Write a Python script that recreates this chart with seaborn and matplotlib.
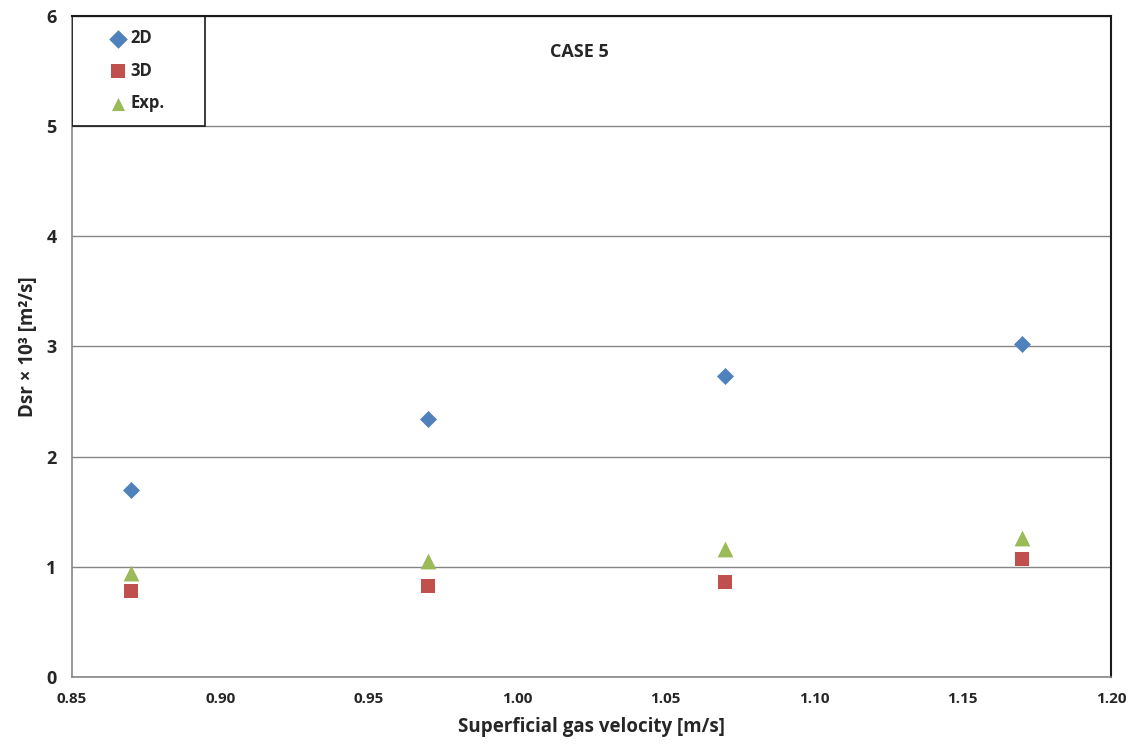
import matplotlib
matplotlib.use("Agg")
import matplotlib.pyplot as plt
from matplotlib.patches import Rectangle
import seaborn as sns
import pandas as pd

# Superficial gas velocity [m/s]
velocity = [0.87, 0.97, 1.07, 1.17]
# Dsr x 10^3 [m^2/s]
dsr_2d = [1.70, 2.34, 2.73, 3.02]
dsr_3d = [0.78, 0.83, 0.86, 1.07]
dsr_exp = [0.94, 1.05, 1.16, 1.26]
series_names = ["2D", "3D", "Exp."]

df = pd.DataFrame({
    "velocity": velocity * 3,
    "dsr": dsr_2d + dsr_3d + dsr_exp,
    "series": [s for s in series_names for _ in velocity],
})

sns.set_theme(style="white")
plt.rcParams["font.family"] = ["Open Sans", "DejaVu Sans"]
plt.rcParams["font.weight"] = "bold"

fig = plt.figure(figsize=(11.42, 7.47), dpi=100)
ax = fig.add_axes([0.063, 0.0937, 0.9099, 0.8849])

palette = {"2D": "#4F81BD", "3D": "#C0504D", "Exp.": "#9BBB59"}
markers = {"2D": "D", "3D": "s", "Exp.": "^"}
sizes = {"2D": 75, "3D": 115, "Exp.": 130}

for name in series_names:
    sub = df[df["series"] == name]
    sns.scatterplot(data=sub, x="velocity", y="dsr", color=palette[name],
                    marker=markers[name], s=sizes[name], linewidth=0,
                    label=name, ax=ax, zorder=3)

ax.set_xlim(0.85, 1.20)
ax.set_ylim(0, 6)
ax.set_xticks([0.85, 0.90, 0.95, 1.00, 1.05, 1.10, 1.15, 1.20])
ax.set_xticklabels([f"{v:.2f}" for v in ax.get_xticks()])
ax.set_yticks(range(0, 7))
ax.yaxis.grid(True, color="#868686", linewidth=1.0)
ax.xaxis.grid(False)
ax.set_axisbelow(True)

for side in ["left", "bottom"]:
    ax.spines[side].set_color("#868686")
    ax.spines[side].set_linewidth(1.2)
for side in ["top", "right"]:
    ax.spines[side].set_color("#1a1a1a")
    ax.spines[side].set_linewidth(1.5)

ax.tick_params(axis="both", which="major", direction="out", length=5,
               width=1, color="#868686", pad=6)
ax.tick_params(axis="y", labelsize=13)
ax.tick_params(axis="x", labelsize=11)
for lbl in ax.get_xticklabels() + ax.get_yticklabels():
    lbl.set_fontweight("bold")

ax.set_xlabel("Superficial gas velocity [m/s]", fontsize=13.5, fontweight="bold", labelpad=8)
ax.set_ylabel("Dsr \u00d7 10\u00b3 [m\u00b2/s]", fontsize=13.5, fontweight="bold", labelpad=6)

ax.text(0.488, 0.9455, "CASE 5", transform=ax.transAxes, fontsize=13,
        fontweight="bold", ha="center", va="center")

# Legend box framed in the upper-left corner of the plot area
ax.add_patch(Rectangle((0.0, 1.0 - 110 / 661), 133 / 1039, 110 / 661,
                       transform=ax.transAxes, fill=False,
                       edgecolor="#1a1a1a", linewidth=1.2, zorder=4))
leg = ax.legend(loc="upper left", bbox_to_anchor=(36 / 1039, 1.0 - 13 / 661),
                frameon=False, borderpad=0, labelspacing=0.88,
                handletextpad=0.15, borderaxespad=0, handlelength=1.2,
                prop={"weight": "bold", "size": 12})
for h in leg.legend_handles:
    h.set_sizes([90])

fig.savefig("out.png", dpi=100)
